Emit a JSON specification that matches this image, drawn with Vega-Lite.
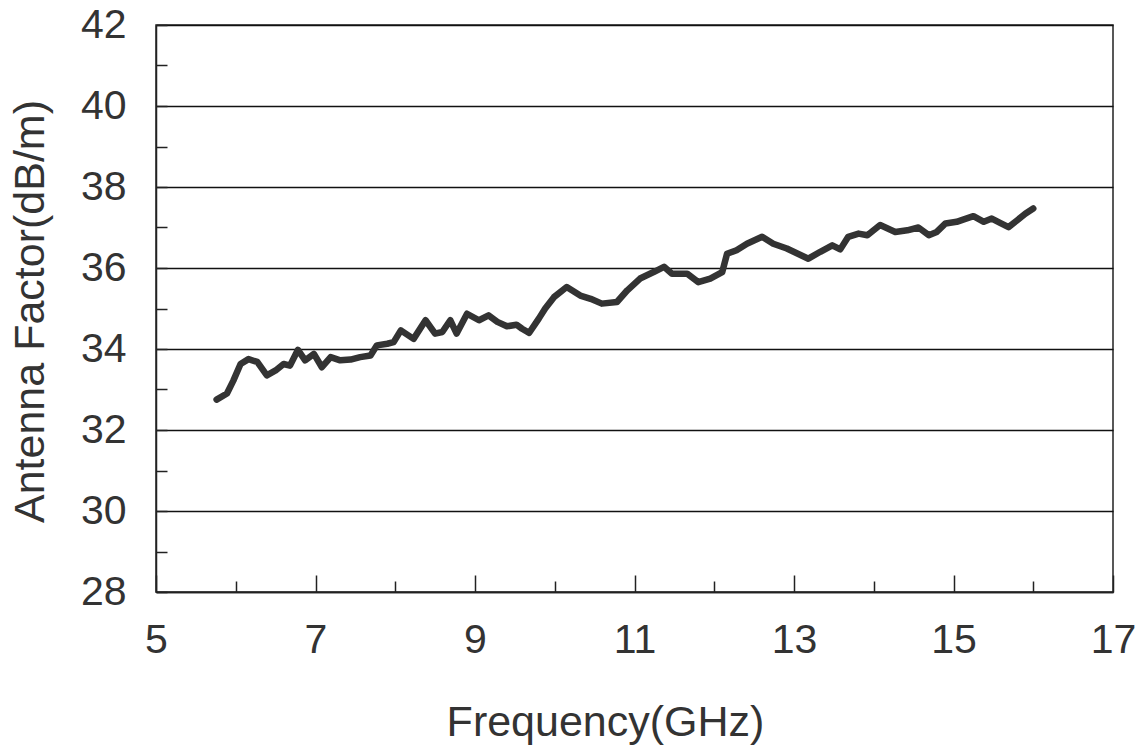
{
  "$schema": "https://vega.github.io/schema/vega-lite/v6.json",
  "width": 957,
  "height": 567,
  "autosize": "none",
  "padding": {"left": 156, "top": 25, "right": 30, "bottom": 157},
  "background": "white",
  "config": {"font": "Liberation Sans", "view": {"stroke": "#222", "strokeWidth": 1.5}},
  "data": {"values": [
    {"freq": 5.76, "af": 32.75}, {"freq": 5.89, "af": 32.9}, {"freq": 5.97, "af": 33.22}, {"freq": 6.06, "af": 33.63},
    {"freq": 6.16, "af": 33.75}, {"freq": 6.27, "af": 33.68}, {"freq": 6.39, "af": 33.35}, {"freq": 6.5, "af": 33.47},
    {"freq": 6.6, "af": 33.63}, {"freq": 6.68, "af": 33.59}, {"freq": 6.78, "af": 33.98}, {"freq": 6.87, "af": 33.72},
    {"freq": 6.98, "af": 33.88}, {"freq": 7.08, "af": 33.55}, {"freq": 7.19, "af": 33.8}, {"freq": 7.31, "af": 33.72},
    {"freq": 7.44, "af": 33.74}, {"freq": 7.56, "af": 33.8}, {"freq": 7.69, "af": 33.84}, {"freq": 7.77, "af": 34.09},
    {"freq": 7.9, "af": 34.13}, {"freq": 7.98, "af": 34.17}, {"freq": 8.07, "af": 34.46}, {"freq": 8.23, "af": 34.25},
    {"freq": 8.38, "af": 34.71}, {"freq": 8.5, "af": 34.38}, {"freq": 8.59, "af": 34.42}, {"freq": 8.69, "af": 34.71},
    {"freq": 8.77, "af": 34.38}, {"freq": 8.9, "af": 34.87}, {"freq": 9.05, "af": 34.71}, {"freq": 9.17, "af": 34.83},
    {"freq": 9.28, "af": 34.67}, {"freq": 9.4, "af": 34.56}, {"freq": 9.52, "af": 34.6}, {"freq": 9.59, "af": 34.5},
    {"freq": 9.68, "af": 34.4}, {"freq": 9.8, "af": 34.75}, {"freq": 9.88, "af": 35.0}, {"freq": 9.99, "af": 35.28},
    {"freq": 10.15, "af": 35.53}, {"freq": 10.32, "af": 35.32}, {"freq": 10.45, "af": 35.24}, {"freq": 10.59, "af": 35.12},
    {"freq": 10.78, "af": 35.16}, {"freq": 10.91, "af": 35.45}, {"freq": 11.07, "af": 35.74}, {"freq": 11.24, "af": 35.9},
    {"freq": 11.37, "af": 36.03}, {"freq": 11.47, "af": 35.86}, {"freq": 11.66, "af": 35.86}, {"freq": 11.8, "af": 35.65},
    {"freq": 11.95, "af": 35.74}, {"freq": 12.1, "af": 35.9}, {"freq": 12.16, "af": 36.35}, {"freq": 12.28, "af": 36.44},
    {"freq": 12.41, "af": 36.6}, {"freq": 12.6, "af": 36.77}, {"freq": 12.74, "af": 36.6}, {"freq": 12.91, "af": 36.48},
    {"freq": 13.18, "af": 36.23}, {"freq": 13.33, "af": 36.4}, {"freq": 13.48, "af": 36.56}, {"freq": 13.58, "af": 36.46},
    {"freq": 13.68, "af": 36.77}, {"freq": 13.81, "af": 36.85}, {"freq": 13.92, "af": 36.81}, {"freq": 14.08, "af": 37.06},
    {"freq": 14.27, "af": 36.89}, {"freq": 14.42, "af": 36.93}, {"freq": 14.56, "af": 37.0}, {"freq": 14.69, "af": 36.81},
    {"freq": 14.79, "af": 36.89}, {"freq": 14.9, "af": 37.1}, {"freq": 15.04, "af": 37.14}, {"freq": 15.13, "af": 37.2},
    {"freq": 15.25, "af": 37.28}, {"freq": 15.38, "af": 37.14}, {"freq": 15.48, "af": 37.22}, {"freq": 15.59, "af": 37.11},
    {"freq": 15.69, "af": 37.01}, {"freq": 15.8, "af": 37.18}, {"freq": 15.9, "af": 37.34}, {"freq": 16.0, "af": 37.47}
  ]},
  "mark": {"type": "line", "color": "#333333", "strokeWidth": 6.5, "strokeJoin": "round", "strokeCap": "round"},
  "encoding": {
    "x": {
      "field": "freq", "type": "quantitative",
      "scale": {"domain": [5, 17], "nice": false, "zero": false},
      "axis": {
        "title": "Frequency(GHz)",
        "values": [5, 6, 7, 8, 9, 10, 11, 12, 13, 14, 15, 16, 17],
        "labelExpr": "datum.value % 2 === 1 ? datum.label : ''",
        "grid": false,
        "domainColor": "#222222", "domainWidth": 1.5,
        "tickColor": "#222222", "tickWidth": 1.5,
        "tickSize": {"condition": {"test": "datum.value % 2 === 1", "value": -17}, "value": -11},
        "labelFontSize": 41, "labelColor": "#333333", "labelPadding": 45,
        "labelOverlap": false, "labelFlush": false,
        "titleFontSize": 43, "titleFontWeight": "normal", "titleColor": "#333333",
        "titleX": 449, "titleY": 143, "titleBaseline": "alphabetic", "titleAlign": "center"
      }
    },
    "y": {
      "field": "af", "type": "quantitative",
      "scale": {"domain": [28, 42], "nice": false, "zero": false},
      "axis": {
        "title": "Antenna Factor(dB/m)",
        "values": [28, 29, 30, 31, 32, 33, 34, 35, 36, 37, 38, 39, 40, 41, 42],
        "labelExpr": "datum.value % 2 === 0 ? datum.label : ''",
        "grid": true, "gridColor": "#111111", "gridWidth": 1.5,
        "gridOpacity": {"condition": {"test": "datum.value % 2 === 1", "value": 0}, "value": 1},
        "domainColor": "#222222", "domainWidth": 1.5,
        "tickColor": "#222222", "tickWidth": 1.5, "tickSize": -11,
        "labelFontSize": 41, "labelColor": "#333333", "labelPadding": 41,
        "labelOverlap": false, "labelFlush": false,
        "titleFontSize": 43, "titleFontWeight": "normal", "titleColor": "#333333",
        "titleAngle": -90, "titleX": -126, "titleY": 286, "titleAlign": "center", "titleBaseline": "middle"
      }
    }
  }
}
